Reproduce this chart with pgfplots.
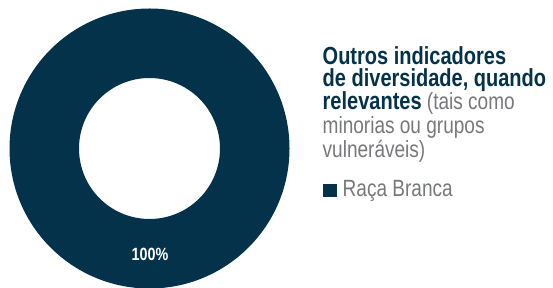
\documentclass[border=0pt]{standalone}
\usepackage{fontspec}
\setmainfont{Liberation Sans}[FakeStretch=0.81]
\usepackage{pgfplots}
\usepackage{pgfplotstable}
\pgfplotsset{compat=1.18}
\usetikzlibrary{calc}
\definecolor{donut}{HTML}{03324A}
\definecolor{txtgray}{HTML}{77787B}
\pgfplotstableread{
label value
{Raça Branca} 100
}\datatable
\begin{document}
\begin{tikzpicture}[lbl/.style={anchor=base west, inner sep=0pt, text height=17.5pt, text depth=4pt}]
\begin{axis}[
  scale only axis, width=553pt, height=288pt,
  xmin=0, xmax=553, ymin=0, ymax=288,
  hide axis, clip=true,
]
\pgfplotstablegetelem{0}{value}\of\datatable
\pgfmathsetmacro{\endang}{90-3.6*\pgfplotsretval}
\fill[donut] ($(axis cs:149.5,139.5)+(90:140pt)$) arc[start angle=90, end angle=\endang, radius=140pt]
  -- ($(axis cs:149.5,139.5)+(\endang:70.5pt)$) arc[start angle=\endang, end angle=90, radius=70.5pt] -- cycle;
\node[anchor=base, text=white, font=\bfseries\fontsize{17.7}{17.7}\selectfont, inner sep=0pt] at (axis cs:150,27) {100\%};
\node[lbl, text=donut, font=\bfseries\fontsize{24.7}{24.7}\selectfont] at (axis cs:322.5,223) {Outros indicadores};
\node[lbl, text=donut, font=\bfseries\fontsize{24.7}{24.7}\selectfont] at (axis cs:322.5,201.5) {de diversidade, quando};
\node[lbl] at (axis cs:322.5,178) {\textcolor{donut}{\bfseries\fontsize{24.7}{24.7}\selectfont relevantes}\fontsize{23.5}{23.5}\selectfont\ \textcolor{txtgray}{(tais como}};
\node[lbl, text=txtgray, font=\fontsize{23.5}{23.5}\selectfont] at (axis cs:322.5,154.7) {minorias ou grupos};
\node[lbl, text=txtgray, font=\fontsize{23.5}{23.5}\selectfont] at (axis cs:322.5,130.7) {vulneráveis)};
\fill[donut] (axis cs:323,91) rectangle (axis cs:336.5,104);
\node[lbl, text=txtgray, font=\fontsize{23.5}{23.5}\selectfont] at (axis cs:342.5,91.3) {Raça Branca};
\end{axis}
\pgfresetboundingbox
\path[use as bounding box] (current axis.south west) rectangle (current axis.north east);
\end{tikzpicture}
\end{document}
